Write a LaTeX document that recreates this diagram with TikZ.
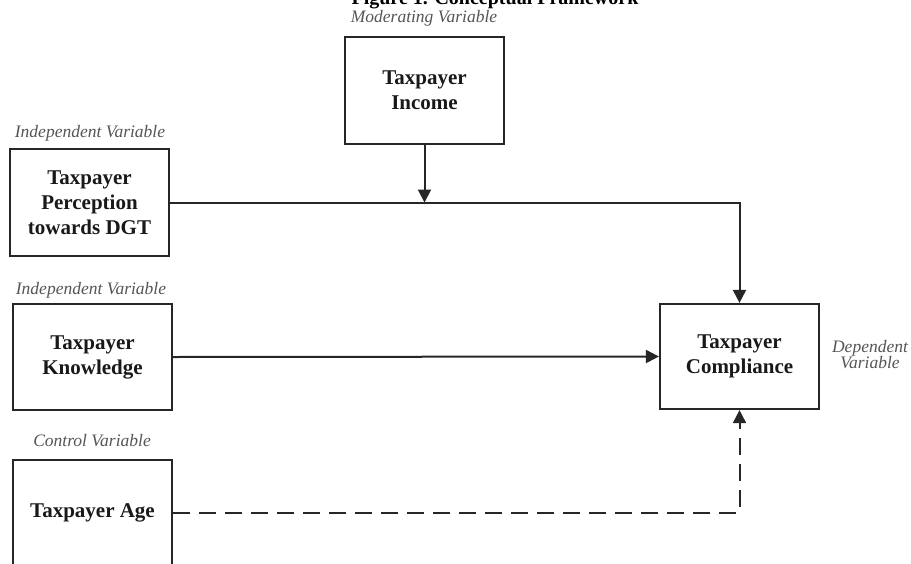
\documentclass[tikz,border=0pt]{standalone}
\usepackage{fontspec}
\setmainfont{Liberation Serif}
\usetikzlibrary{arrows.meta}
\definecolor{labelgray}{HTML}{555555}
\begin{document}
\begin{tikzpicture}[x=1pt,y=-1pt,
  varbox/.style={draw=black!85,line width=2.2pt,minimum width=159pt,minimum height=106pt,
    align=center,inner sep=2pt,font=\fontsize{21}{25}\selectfont\bfseries,text=black!90},
  varlabel/.style={font=\fontsize{17.5}{17}\selectfont\itshape,text=labelgray,align=center,inner sep=0pt},
  link/.style={draw=black!85,line width=2pt},
  tip/.style={-{Triangle[width=13pt,length=13pt]}},
  dashlink/.style={link,dash pattern=on 17pt off 9pt}
]
\useasboundingbox (0,0) rectangle (911,563);
\clip (0,0) rectangle (911,563);

\node[font=\fontsize{20}{24}\selectfont\bfseries,anchor=base,inner sep=0pt] (title) at (495,4) {Figure 1. Conceptual Framework};

\node[varbox,minimum height=107pt] (income) at (424.5,90.5) {Taxpayer\\Income};
\node[varbox,minimum height=107pt] (perc) at (89.5,202.5) {Taxpayer\\Perception\\towards DGT};
\node[varbox] (know) at (92.5,357) {Taxpayer\\Knowledge};
\node[varbox,minimum height=105pt] (comp) at (739.5,356.5) {Taxpayer\\Compliance};
\node[varbox,minimum height=105pt] (age) at (92.5,512.5) {Taxpayer Age};

\node[varlabel] (lmod) at (424,18) {Moderating Variable};
\node[varlabel] (lind1) at (90,133) {Independent Variable};
\node[varlabel] (lind2) at (91,290) {Independent Variable};
\node[varlabel] (lctl) at (92,441) {Control Variable};
\node[varlabel,font=\fontsize{17.5}{16}\selectfont\itshape] (ldep) at (870,355) {Dependent\\Variable};

\coordinate (j) at (income.south |- perc.east);
\draw[link,tip] (income.south) -- (j);
\draw[link,tip] (perc.east) -| (comp.north);
\draw[link,tip] (know.east) -- (comp.west);
\draw[dashlink,tip] (age.east) -| (comp.south);
\end{tikzpicture}
\end{document}
